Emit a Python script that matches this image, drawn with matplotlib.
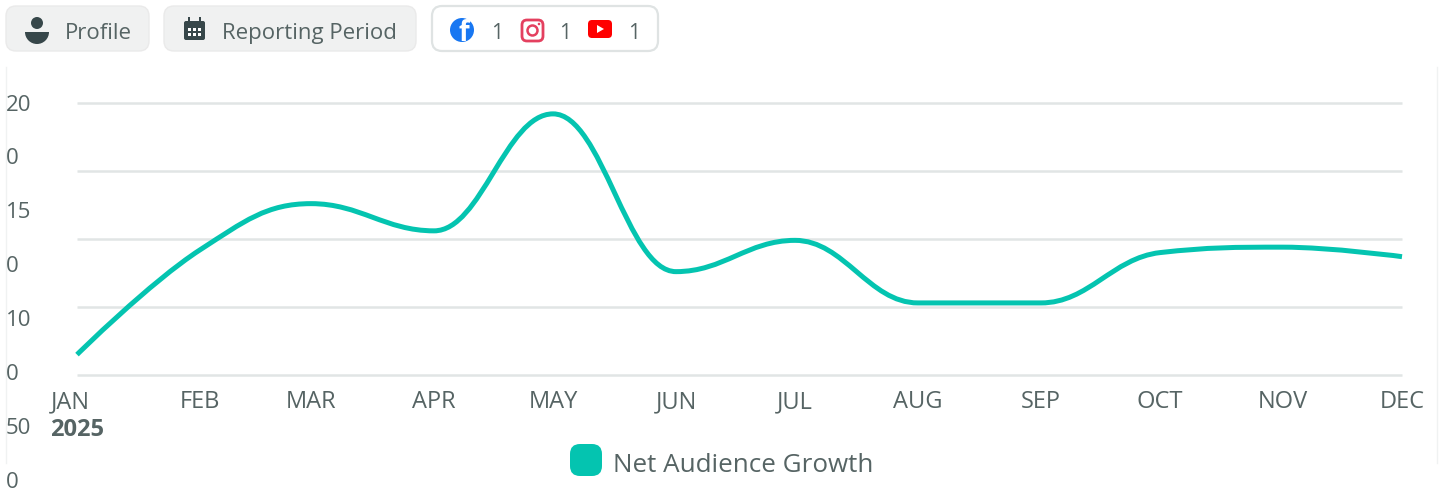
"""Net audience growth line chart with the toolbar row on top."""
import datetime as dt

import matplotlib

matplotlib.use("Agg")
import matplotlib.dates as mdates
import matplotlib.pyplot as plt
from matplotlib.patches import Circle, FancyBboxPatch, PathPatch, Polygon, Rectangle, Wedge
from matplotlib.path import Path
from matplotlib.transforms import ScaledTranslation

plt.rcParams["font.family"] = ["Open Sans", "Noto Sans", "DejaVu Sans"]

W, H = 1445, 491
TEAL = "#04c4b0"
GRID = "#e1e5e5"
TEXT = "#566464"
DARK = "#37474a"

months = ["JAN", "FEB", "MAR", "APR", "MAY", "JUN", "JUL", "AUG", "SEP", "OCT", "NOV", "DEC"]
growth = [15, 92, 126, 106, 192, 76, 99, 53, 53, 90, 94, 87]
y_grid = [0, 50, 100, 150, 200]
y_labels = ["20", "0", "15", "0", "10", "0", "50", "0"]
series_name = "Net Audience Growth"
year_label = "2025"
social_counts = ["1", "1", "1"]


def spline_path(xs, ys, smoothing=1.5, denom=2.5):
    """Bezier path through the points, no overshoot at local extrema."""
    verts = [(xs[0], ys[0])]
    codes = [Path.MOVETO]
    n = len(xs)
    left, right = [None] * n, [None] * n
    left[0] = (xs[0], ys[0])
    right[0] = (xs[0], ys[0])
    left[-1] = (xs[-1], ys[-1])
    right[-1] = (xs[-1], ys[-1])
    for i in range(1, n - 1):
        lx = (smoothing * xs[i] + xs[i - 1]) / denom
        ly = (smoothing * ys[i] + ys[i - 1]) / denom
        rx = (smoothing * xs[i] + xs[i + 1]) / denom
        ry = (smoothing * ys[i] + ys[i + 1]) / denom
        corr = (ry - ly) * (rx - xs[i]) / (rx - lx) + ys[i] - ry
        ly += corr
        ry += corr
        if ly > ys[i - 1] and ly > ys[i]:
            ly = max(ys[i - 1], ys[i])
            ry = 2 * ys[i] - ly
        elif ly < ys[i - 1] and ly < ys[i]:
            ly = min(ys[i - 1], ys[i])
            ry = 2 * ys[i] - ly
        if ry > ys[i + 1] and ry > ys[i]:
            ry = max(ys[i + 1], ys[i])
            ly = 2 * ys[i] - ry
        elif ry < ys[i + 1] and ry < ys[i]:
            ry = min(ys[i + 1], ys[i])
            ly = 2 * ys[i] - ry
        left[i] = (lx, ly)
        right[i] = (rx, ry)
    for i in range(1, n):
        verts += [right[i - 1], left[i], (xs[i], ys[i])]
        codes += [Path.CURVE4, Path.CURVE4, Path.CURVE4]
    return Path(verts, codes)


fig = plt.figure(figsize=(W / 100, H / 100), dpi=100)

# plot area
ax = fig.add_axes([77 / W, 1 - 375 / H, (1402 - 77) / W, (375 - 103) / H])
dates = [dt.date(2025, m + 1, 1) for m in range(12)]
xnum = mdates.date2num(dates)
ax.set_xlim(xnum[0], xnum[-1])
ax.set_ylim(0, 200)
ax.set_yticks(y_grid)
ax.set_yticklabels([])
ax.grid(axis="y", color=GRID, lw=1.8, clip_on=False, solid_capstyle="butt")
ax.set_axisbelow(True)
for s in ax.spines.values():
    s.set_visible(False)
ax.set_xticks(xnum)
ax.set_xticklabels(months, color=TEXT, fontsize=17)
ax.tick_params(length=0, pad=11)
first = ax.xaxis.get_majorticklabels()[0]
first.set_transform(first.get_transform() + ScaledTranslation(-5 / 72, 0, fig.dpi_scale_trans))
ax.add_patch(PathPatch(spline_path(list(xnum), growth), fc="none", ec=TEAL, lw=3.6,
                       capstyle="butt", clip_on=False, zorder=3))

# overlay in pixel coordinates for the page furniture
ov = fig.add_axes([0, 0, 1, 1], facecolor="none")
ov.set_xlim(0, W)
ov.set_ylim(H, 0)
ov.axis("off")

for px in (6, 1437):
    ov.plot([px, px], [67, 463], color="#f0f2f2", lw=1)

for i, lab in enumerate(y_labels):
    ov.text(6, 110.5 + 54 * i, lab, color=TEXT, fontsize=16, va="baseline", ha="left")
ov.text(77, 427, year_label, color=TEXT, fontsize=17, fontweight="bold",
        va="center_baseline", ha="center")

ov.add_patch(FancyBboxPatch((570, 444), 32, 32, boxstyle="round,pad=0,rounding_size=10",
                            fc=TEAL, ec="none"))
ov.text(613, 463, series_name, color=TEXT, fontsize=18.7, va="center_baseline", ha="left")


def button(x0, x1, fc, ec, lw=1.0):
    ov.add_patch(FancyBboxPatch((x0, 6), x1 - x0, 45, boxstyle="round,pad=0,rounding_size=10",
                                fc=fc, ec=ec, lw=lw))


button(6, 149, "#f0f1f1", "#eaeaea")
button(164, 416, "#f0f1f1", "#eaeaea")
button(432, 658, "white", "#dfe3e3", 1.6)

# person icon
ov.add_patch(Circle((37, 23), 6, fc=DARK, ec="none"))
ov.add_patch(Wedge((37, 32), 12, 0, 180, fc=DARK, ec="none"))
ov.text(65, 31, "Profile", color=TEXT, fontsize=16, va="center_baseline")

# calendar icon
ov.add_patch(FancyBboxPatch((184, 21), 21, 19, boxstyle="round,pad=0,rounding_size=2", fc=DARK, ec="none"))
for cx in (189, 200):
    ov.add_patch(Rectangle((cx - 1, 17), 2, 6, fc=DARK, ec="none"))
for ry in (28, 33):
    for cx in (188, 193, 198):
        ov.add_patch(Rectangle((cx, ry), 3, 3, fc="white", ec="none"))
ov.text(222, 31, "Reporting Period", color=TEXT, fontsize=16, va="center_baseline")

# social icons
ov.add_patch(Circle((462, 30), 12, fc="#1877f2", ec="none"))
ov.text(464, 33, "f", color="white", fontsize=20, fontweight="bold", va="center", ha="center")
ov.text(491, 31, social_counts[0], color=TEXT, fontsize=15, va="center_baseline")
ov.add_patch(FancyBboxPatch((522, 20), 21, 21, boxstyle="round,pad=0,rounding_size=5",
                            fc="white", ec="#e4405f", lw=2))
ov.add_patch(Circle((532.5, 30.5), 5, fc="none", ec="#e4405f", lw=1.8))
ov.add_patch(Circle((539, 24), 1.3, fc="#e4405f", ec="none"))
ov.text(559, 31, social_counts[1], color=TEXT, fontsize=15, va="center_baseline")
ov.add_patch(FancyBboxPatch((588, 20), 24, 18, boxstyle="round,pad=0,rounding_size=4", fc="#ff0000", ec="none"))
ov.add_patch(Polygon([(597, 25), (597, 33), (604, 29)], fc="white", ec="none"))
ov.text(628, 31, social_counts[2], color=TEXT, fontsize=15, va="center_baseline")

fig.savefig("out.png", dpi=100)
plt.close(fig)
